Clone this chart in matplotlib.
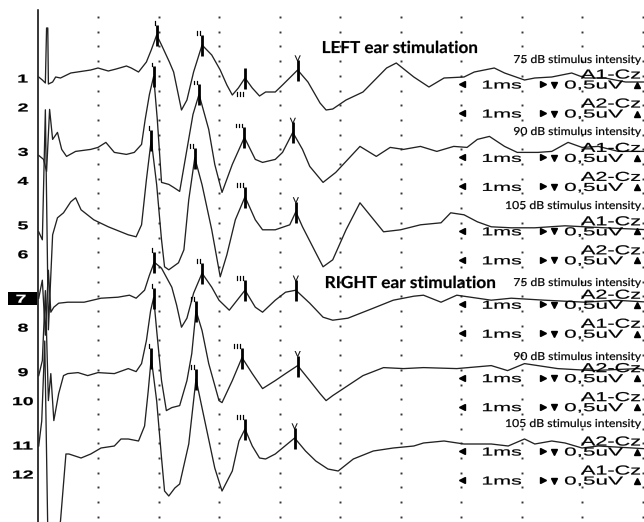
import numpy as np
import matplotlib
matplotlib.use('Agg')
import matplotlib.pyplot as plt
from matplotlib.textpath import TextPath
from matplotlib.font_manager import FontProperties
from matplotlib.patches import PathPatch, Rectangle
from matplotlib.transforms import Affine2D

# ABR traces: time in ms, amplitude in uV
t_L75 = [0.02, 0.08, 0.13, 0.15, 0.17, 0.18, 0.25, 0.30, 0.38, 0.55, 0.88, 1.00, 1.17, 1.30, 1.47, 1.55, 1.67, 1.80, 1.88, 1.97,
         2.05, 2.18, 2.25, 2.38, 2.47, 2.58, 2.72, 2.88, 3.02, 3.13, 3.22, 3.32, 3.43, 3.55, 3.67, 3.77, 3.93, 4.05, 4.30, 4.47,
         4.67, 4.77, 4.88, 5.10, 5.38, 5.77, 5.93, 6.22, 6.47, 6.72, 7.05, 7.22, 7.55, 7.72, 8.05, 8.22, 8.50, 8.83, 9.05, 9.38,
         9.72, 10.12]
a_L75 = [0.01, -0.02, -0.05, 0.50, 0.50, -0.06, -0.04, 0.01, 0.00, 0.05, 0.08, 0.10, 0.07, 0.09, 0.12, 0.10, 0.06, 0.16, 0.28, 0.43,
         0.33, 0.16, 0.06, -0.32, -0.22, 0.06, 0.33, 0.23, 0.08, -0.07, -0.17, -0.10, 0.00, -0.10, -0.18, -0.14, -0.14, -0.07, 0.08, -0.04,
         -0.25, -0.32, -0.31, -0.22, -0.14, 0.10, 0.15, 0.01, -0.09, 0.00, 0.01, 0.06, 0.10, 0.05, -0.02, 0.00, 0.01, 0.05, 0.00, 0.00,
         -0.04, -0.04]

t_L90 = [0.02, 0.10, 0.15, 0.20, 0.25, 0.33, 0.40, 0.48, 0.63, 0.88, 1.00, 1.13, 1.27, 1.47, 1.60, 1.72, 1.78, 1.85, 1.92, 1.98,
         2.05, 2.17, 2.25, 2.35, 2.47, 2.57, 2.67, 2.83, 2.93, 3.05, 3.22, 3.42, 3.60, 3.72, 3.93, 4.05, 4.22, 4.38, 4.50, 4.72,
         4.93, 5.33, 5.60, 5.83, 6.05, 6.33, 6.60, 6.88, 7.10, 7.27, 7.47, 7.72, 7.93, 8.27, 8.50, 8.77, 9.00, 9.27, 9.60, 10.12]
a_L90 = [-0.04, -0.08, -0.20, 0.42, 0.12, 0.19, 0.02, -0.05, 0.00, 0.02, 0.04, 0.09, -0.01, -0.03, -0.01, 0.07, 0.32, 0.57, 0.75, 0.32,
         -0.31, -0.33, -0.36, -0.40, 0.02, 0.37, 0.57, 0.22, -0.13, -0.41, -0.13, 0.14, -0.08, -0.11, -0.08, -0.01, 0.19, 0.02, -0.15, -0.31,
         -0.21, 0.05, -0.05, 0.04, 0.02, 0.05, 0.00, 0.05, 0.04, 0.12, 0.15, 0.05, -0.01, -0.01, 0.00, 0.09, 0.04, 0.05, 0.00, 0.00]

t_L105 = [0.02, 0.08, 0.13, 0.18, 0.25, 0.33, 0.43, 0.55, 0.63, 0.72, 0.93, 1.17, 1.50, 1.63, 1.72, 1.80, 1.88, 1.97, 2.05, 2.10,
          2.17, 2.33, 2.42, 2.50, 2.60, 2.72, 2.88, 3.02, 3.13, 3.27, 3.43, 3.60, 3.72, 3.93, 4.17, 4.27, 4.38, 4.60, 4.72, 4.88,
          5.10, 5.33, 5.72, 6.00, 6.33, 6.67, 6.83, 7.05, 7.27, 7.50, 7.83, 8.22, 8.72, 9.38, 10.12]
a_L105 = [-0.07, -0.15, 1.15, -1.05, -0.10, 0.07, 0.12, 0.23, 0.27, 0.15, 0.05, -0.02, -0.10, -0.12, 0.00, 0.45, 0.85, 0.40, -0.15, -0.42,
          -0.45, -0.38, -0.25, 0.25, 0.67, 0.40, -0.05, -0.52, -0.30, 0.05, 0.28, 0.05, -0.05, -0.05, 0.00, 0.13, -0.02, -0.28, -0.42, -0.35,
          -0.05, 0.22, -0.07, -0.05, 0.00, 0.02, 0.12, 0.10, 0.03, -0.02, -0.03, -0.03, -0.01, -0.03, -0.05]

t_R75 = [0.02, 0.08, 0.13, 0.18, 0.22, 0.27, 0.35, 0.50, 0.77, 1.05, 1.33, 1.52, 1.63, 1.77, 1.85, 1.93, 2.05, 2.22, 2.30, 2.38,
         2.47, 2.58, 2.72, 2.88, 3.00, 3.17, 3.30, 3.43, 3.60, 3.72, 3.93, 4.10, 4.27, 4.50, 4.72, 4.88, 5.13, 5.55, 5.88, 6.22,
         6.38, 6.67, 6.93, 7.50, 7.83, 8.38, 9.05, 9.55, 10.12]
a_R75 = [0.00, 0.18, -0.37, 0.28, -0.14, -0.09, -0.05, -0.04, -0.04, 0.00, 0.01, 0.03, 0.00, 0.08, 0.23, 0.36, 0.30, 0.11, -0.07, -0.29,
         -0.20, 0.05, 0.25, 0.11, -0.02, -0.12, -0.02, 0.08, -0.09, -0.14, -0.02, 0.06, 0.08, -0.05, -0.19, -0.22, -0.20, -0.10, -0.02, 0.02,
         0.03, -0.04, 0.03, -0.02, 0.00, -0.02, -0.04, -0.02, -0.04]

t_R90 = [0.02, 0.08, 0.13, 0.18, 0.22, 0.27, 0.35, 0.43, 0.50, 0.67, 0.83, 1.00, 1.27, 1.50, 1.63, 1.72, 1.80, 1.87, 1.92, 1.97,
         2.05, 2.13, 2.22, 2.35, 2.47, 2.55, 2.62, 2.72, 2.83, 3.00, 3.05, 3.22, 3.38, 3.55, 3.72, 3.93, 4.10, 4.30, 4.50, 4.67,
         4.77, 4.88, 5.13, 5.38, 5.72, 6.05, 6.38, 6.93, 7.50, 7.77, 8.05, 8.60, 9.17, 9.93, 10.12]
a_R90 = [-0.04, 0.11, 0.81, -0.29, -0.02, -0.49, -0.22, -0.04, -0.02, -0.01, -0.04, -0.01, -0.02, 0.03, 0.00, 0.08, 0.31, 0.61, 0.74, 0.41,
         -0.09, -0.39, -0.36, -0.34, -0.09, 0.18, 0.61, 0.41, 0.08, -0.29, -0.31, -0.09, 0.14, -0.02, -0.17, -0.09, -0.02, 0.06, -0.09, -0.22,
         -0.29, -0.24, -0.14, -0.04, 0.04, 0.03, 0.04, 0.03, 0.06, 0.01, 0.08, 0.03, 0.01, 0.03, 0.01]

t_R105 = [0.02, 0.07, 0.12, 0.17, 0.22, 0.30, 0.38, 0.47, 0.52, 0.72, 0.88, 1.05, 1.27, 1.38, 1.50, 1.67, 1.77, 1.83, 1.88, 1.97,
          2.05, 2.10, 2.17, 2.27, 2.35, 2.50, 2.62, 2.72, 2.93, 3.05, 3.22, 3.33, 3.43, 3.55, 3.67, 3.77, 3.93, 4.13, 4.25, 4.43,
          4.60, 4.80, 4.97, 5.22, 5.55, 5.88, 6.22, 6.38, 6.72, 7.05, 7.50, 7.78, 8.05, 8.22, 8.50, 8.72, 9.00, 9.27, 10.12]
a_R105 = [-0.01, 0.24, 1.04, -0.86, -1.01, -1.01, -0.76, -0.09, -0.09, -0.13, -0.09, -0.03, -0.01, 0.06, 0.06, 0.04, 0.19, 0.54, 0.87, 0.44,
          -0.13, -0.46, -0.51, -0.43, -0.39, 0.01, 0.66, 0.37, -0.23, -0.46, -0.26, 0.04, 0.16, -0.01, -0.13, -0.14, -0.09, 0.01, 0.07, -0.06,
          -0.16, -0.24, -0.26, -0.14, -0.06, -0.03, -0.01, 0.02, 0.04, 0.01, 0.01, -0.01, 0.06, 0.01, 0.04, 0.02, -0.03, -0.01, -0.04]

# wave I, II, III, V latencies (ms)
waves = ['I', 'II', 'III', 'V']
lat_L75 = [1.97, 2.72, 3.43, 4.30]
lat_L90 = [1.92, 2.67, 3.42, 4.22]
lat_L105 = [1.88, 2.60, 3.43, 4.27]
lat_R75 = [1.93, 2.72, 3.43, 4.27]
lat_R90 = [1.92, 2.62, 3.38, 4.30]
lat_R105 = [1.88, 2.62, 3.43, 4.25]

intensities = ['75', '90', '105', '75', '90', '105']
leads = ['A1-Cz', 'A2-Cz', 'A1-Cz', 'A2-Cz', 'A1-Cz', 'A2-Cz',
         'A2-Cz', 'A1-Cz', 'A2-Cz', 'A1-Cz', 'A2-Cz', 'A1-Cz']

traces = [(t_L75, a_L75, lat_L75), (t_L90, a_L90, lat_L90), (t_L105, a_L105, lat_L105),
          (t_R75, a_R75, lat_R75), (t_R90, a_R90, lat_R90), (t_R105, a_R105, lat_R105)]

# layout (pixels)
W, H = 644, 522
X0, PX_MS = 37.5, 60.5
PX_UV = 100
ch_y = []
for k in range(6):
    ch_y += [78 + 73.4 * k, 107 + 73.4 * k]

fig = plt.figure(figsize=(W / 100, H / 100), dpi=100)
ax = fig.add_axes([0, 0, 1, 1])
ax.set_xlim(-X0 / PX_MS, (W - X0) / PX_MS)
ax.set_ylim(H, 0)
ax.axis('off')
ov = fig.add_axes([0, 0, 1, 1])
ov.set_xlim(0, W)
ov.set_ylim(H, 0)
ov.axis('off')
ov.patch.set_alpha(0)


def put_text(s, x, ybase, em, sx=1.0, width=None, ha='left', family='Liberation Sans',
             weight='normal', color='black'):
    tp = TextPath((0, 0), s, size=1, prop=FontProperties(family=family, weight=weight))
    bb = tp.get_extents()
    if width is not None:
        sx = width / (bb.width * em)
    w = bb.width * em * sx
    left = x if ha == 'left' else (x - w / 2 if ha == 'center' else x - w)
    tr = Affine2D().translate(-bb.x0, 0).scale(em * sx, -em).translate(left, ybase)
    ov.add_patch(PathPatch(tr.transform_path(tp), fc=color, ec=color, lw=0.15, zorder=5))


def to_px(t, y):
    return ov.transData.inverted().transform(ax.transData.transform((t, y)))


# dotted time grid (1 ms)
ys = np.arange(17, H, 14.7)
for k in range(1, 11):
    ax.plot(np.full_like(ys, k), ys, ls='none', marker='s', ms=1.4, mfc='#333', mec='none')
ax.axvline(0, ymin=0, ymax=1 - 10 / H, color='black', lw=1.1)

# waveforms + peak markers
for i, (t, a, lat) in enumerate(traces):
    base = ch_y[2 * i]
    y = base - np.array(a) * PX_UV
    ax.plot(t, y, color='#222222', lw=0.95, zorder=3)
    for w, lt in zip(waves, lat):
        yp = base - np.interp(lt, t, a) * PX_UV
        ax.plot([lt, lt], [yp - 10, yp + 11], color='black', lw=2.0, solid_capstyle='butt', zorder=4)
        px, _ = to_px(lt, yp)
        if w == 'V':
            put_text('V', px, yp - 9, 8, sx=1.1, ha='center')
        elif w == 'III' and i == 0:
            put_text(w, px - 1, yp + 19, 7, sx=1.6, ha='right')
        else:
            put_text(w, px - 1, yp - 9, 7, sx=1.6, ha='right')

# channel numbers
for n, cy in enumerate(ch_y, start=1):
    if n == 7:
        ov.add_patch(Rectangle((8, cy - 6.5), 29, 13, fc='black', ec='none', zorder=4))
        put_text(str(n), 21, cy + 4.5, 11.5, sx=1.7, ha='center', weight='bold', color='white')
    else:
        put_text(str(n), 23, cy + 4.5, 11.5, sx=1.7, ha='center', weight='bold')

# lead labels and scale rows
for lead, cy in zip(leads, ch_y):
    put_text(lead, 581, cy + 0.5, 13, width=59)
    put_text('1ms', 483, cy + 10.5, 11.5, width=38)
    put_text('0,5uV', 565, cy + 10.5, 11.5, width=58)
    ov.plot([462], [cy + 6], marker='<', ms=3.8, color='black', ls='none')
    ov.plot([543], [cy + 6], marker='>', ms=3.8, color='black', ls='none')
    ov.plot([554], [cy + 6.5], marker='v', ms=3.8, color='black', ls='none')
    ov.plot([637], [cy + 6.5], marker='^', ms=3.8, color='black', ls='none')

# stimulus intensity notes
note_y = [63, 135, 209, 286, 360, 427]
for lvl, ny in zip(intensities, note_y):
    put_text(f'{lvl} dB stimulus intensity', 641, ny, 11, width=127 if lvl != '105' else 135,
             ha='right', family='Lato')

put_text('LEFT ear stimulation', 323, 53, 16.5, width=154, family='Lato', weight='bold')
put_text('RIGHT ear stimulation', 326, 288, 16.5, width=169, family='Lato', weight='bold')

fig.savefig('out.png', dpi=100, facecolor='white')
